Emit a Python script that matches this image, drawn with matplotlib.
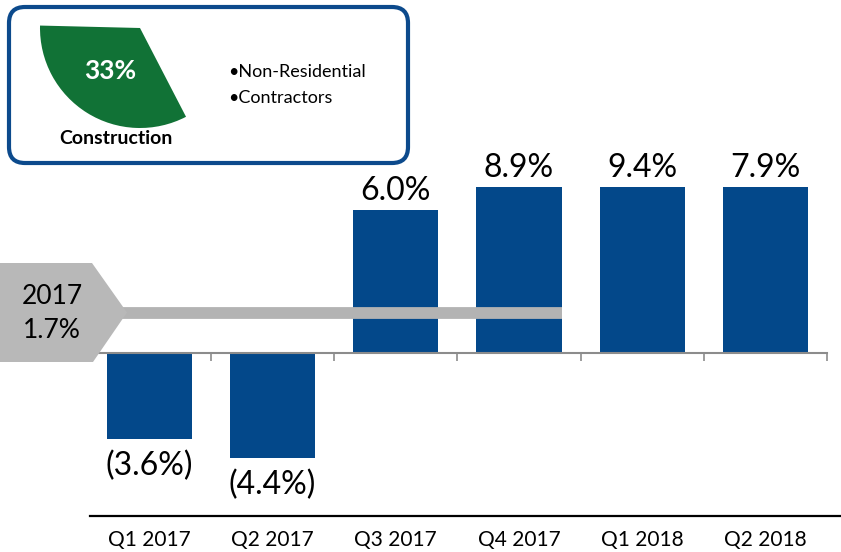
import matplotlib
matplotlib.use("Agg")
import matplotlib.pyplot as plt
from matplotlib.patches import FancyBboxPatch, Wedge, Polygon

plt.rcParams['font.family'] = ['Lato', 'DejaVu Sans']

# data
quarters = ['Q1 2017', 'Q2 2017', 'Q3 2017', 'Q4 2017', 'Q1 2018', 'Q2 2018']
growth = [-3.6, -4.4, 6.0, 8.9, 9.4, 7.9]
year_label = '2017'
year_avg = 1.7
segment = 'Construction'
segment_share = 33
bullets = ['Non-Residential', 'Contractors']

BLUE = '#03488A'
GREY = '#B3B3B3'
AXIS_GREY = '#8C8C8C'

W, H = 841, 552
fig = plt.figure(figsize=(W / 100, H / 100), dpi=100)

# main bar axes (pixel layout from the reference)
left, right, top, bottom = 87.8, 827, 186.7, 516
ax = fig.add_axes([left / W, 1 - bottom / H, (right - left) / W, (bottom - top) / H])
ymax, ymin = 7.0, -6.85
ax.set_xlim(-0.5, len(quarters) - 0.5)
ax.set_ylim(ymin, ymax)
for s in ['top', 'right', 'left']:
    ax.spines[s].set_visible(False)
ax.spines['bottom'].set_position(('data', 0))
ax.spines['bottom'].set_color(AXIS_GREY)
ax.spines['bottom'].set_linewidth(1.5)
ax.set_yticks([])
ax.set_xticks([])
ax.set_xticks([i + 0.5 for i in range(len(quarters))], minor=True)
ax.tick_params(axis='x', which='minor', length=6, width=1.2, color=AXIS_GREY, labelbottom=False)

x = range(len(quarters))
ax.bar(x, growth, width=0.69, color=BLUE, zorder=2)

px = (ymax - ymin) / (bottom - top)  # data units per pixel
for i, v in enumerate(growth):
    if v >= 0:
        ax.text(i, min(v, ymax) + 10 * px, f'{v:.1f}%', ha='center', va='baseline',
                fontsize=23, clip_on=False)
    else:
        ax.text(i, v - 12 * px, f'({abs(v):.1f}%)', ha='center', va='top',
                fontsize=23, clip_on=False)

# 2017 average line across the 2017 quarters
ax.hlines(year_avg, -0.5, 3 + 0.345, color=GREY, lw=8.5, zorder=3)

for i, q in enumerate(quarters):
    ax.text(i, -(540 - top) / (bottom - top) + 1, q, transform=ax.get_xaxis_transform(),
            ha='center', va='center', fontsize=15, clip_on=False)

# overlay in pixel coordinates for the decorations
ov = fig.add_axes([0, 0, 1, 1], zorder=5)
ov.set_xlim(0, W)
ov.set_ylim(H, 0)
ov.axis('off')
ov.patch.set_visible(False)

ov.plot([90, W], [516, 516], color='black', lw=1.6)

arrow = Polygon([(0, 263), (92, 263), (127, 312.5), (93, 362), (0, 362)],
                closed=True, facecolor='#B8B8B8', edgecolor='none')
ov.add_patch(arrow)
ov.text(52, 296, year_label, ha='center', va='center', fontsize=19)
ov.text(52, 331, f'{year_avg}%', ha='center', va='center', fontsize=19)

box = FancyBboxPatch((9, 7), 399, 156, boxstyle='round,pad=0,rounding_size=16',
                     facecolor='white', edgecolor='#0C4A8C', lw=3)
ov.add_patch(box)

span = segment_share / 100 * 360
mid = 122
ov.add_patch(Wedge((140, 28), 100, mid - span / 2, mid + span / 2,
                   facecolor='#117236', edgecolor='none'))
ov.text(110, 71, f'{segment_share}%', ha='center', va='center', fontsize=19,
        fontweight='bold', color='white')
ov.text(116, 139, segment, ha='center', va='center', fontsize=14, fontweight='bold')
for k, b in enumerate(bullets):
    ov.text(228, 72 + 26 * k, '\u2022' + b, ha='left', va='center', fontsize=13)

fig.savefig('out.png', dpi=100)
